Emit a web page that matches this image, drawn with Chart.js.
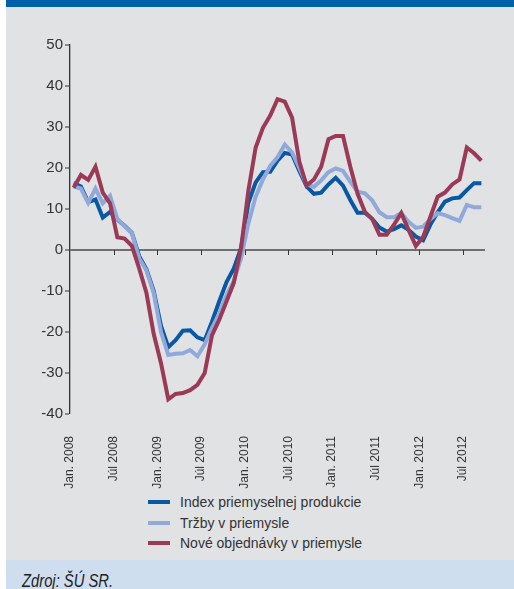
<!DOCTYPE html>
<html>
<head>
<meta charset="utf-8">
<script src="https://cdn.jsdelivr.net/npm/chart.js@4.4.1/dist/chart.umd.min.js"></script>
<style>
  html, body { margin: 0; padding: 0; background: #fff; }
  #wrap { position: relative; width: 514px; height: 589px; overflow: hidden; font-family: "Liberation Sans", Arial, sans-serif; }
  #topbar { position: absolute; left: 6px; top: 0; width: 508px; height: 7px; background: #0061aa; }
  #panel { position: absolute; left: 6px; top: 7px; width: 508px; height: 553px; background: #e1e2e4; }
  #source { position: absolute; left: 6px; top: 560px; width: 508px; height: 29px; background: #cfdeee; }
  #source span { position: absolute; left: 16px; top: 12px; font-family: "Liberation Sans", Arial, sans-serif; font-style: italic; font-size: 18px; line-height: 18px; color: #222; transform: scaleX(0.82); transform-origin: left top; white-space: nowrap; }
  #chartBox { position: absolute; left: 0; top: 0; width: 514px; height: 490px; }
  #legend { position: absolute; left: 148px; top: 492px; }
  .item { display: flex; align-items: center; height: 20.5px; font-size: 14px; color: #333; }
  .swatch { width: 22px; height: 4px; margin-right: 10px; }
</style>
</head>
<body>
<div id="wrap">
  <div id="topbar"></div>
  <div id="panel"></div>
  <div id="source"><span>Zdroj: ŠÚ SR.</span></div>
  <div id="chartBox"><canvas id="myChart" width="514" height="490"></canvas></div>
  <div id="legend"></div>
</div>
<script>
// months Jan 2008 .. Sep 2012
const months = []
for (let y = 2008; y <= 2012; y++) {
  for (let m = 1; m <= 12; m++) {
    if (y === 2012 && m > 9) break
    months.push(y + '-' + m)
  }
}

const tickMonths = [0, 6, 12, 18, 24, 30, 36, 42, 48, 54]
const tickLabels = ['Jan. 2008', 'Júl 2008', 'Jan. 2009', 'Júl 2009', 'Jan. 2010',
  'Júl 2010', 'Jan. 2011', 'Júl 2011', 'Jan. 2012', 'Júl 2012']

const seriesNames = ['Index priemyselnej produkcie', 'Tržby v priemysle', 'Nové objednávky v priemysle']
const seriesColors = ['#0a58a2', '#91a9da', '#9a3a57']

const industryIndex = [16.3, 15.5, 11.7, 12.3, 7.9, 9.3, 7.4, 5.9, 4.2, -1.5,
  -4.7, -10, -18.5, -23.7, -22, -19.7, -19.6, -21.3, -22, -17.5,
  -12.5, -7.8, -4.5, 0.5, 11.5, 16.5, 19, 19.1, 21.8, 23.7,
  23.3, 19.3, 15.5, 13.7, 14, 16, 17.6, 15.7, 12.2, 9.1,
  9.1, 7.6, 5.5, 4.5, 5.1, 6, 4.9, 3.3, 2.4, 6.2,
  9.2, 11.8, 12.6, 12.8, 14.6, 16.3, 16.3]

const sales = [15.5, 15, 11.5, 15, 11.4, 13.2, 7.6, 5.8, 4.1, -2,
  -5, -10.5, -20, -25.6, -25.3, -25.2, -24.4, -25.9, -23, -19,
  -15.5, -11, -7.5, -2, 6.5, 13, 17.2, 20.5, 22.6, 25.7,
  23.8, 20, 16, 15.4, 17, 19, 19.9, 19.3, 16.6, 14.2,
  13.8, 12.1, 9.2, 8, 8, 9, 6.9, 5.4, 5.7, 7.5,
  9, 8.5, 7.8, 7.1, 11, 10.4, 10.4]

const newOrders = [15.2, 18.3, 17.1, 20.3, 14, 11.4, 3.1, 2.8, 1, -4.5,
  -10.5, -20.5, -27.6, -36.4, -35.1, -34.9, -34.2, -32.9, -30, -20.8,
  -17, -12.5, -8, 0.5, 14.5, 25, 29.8, 32.8, 36.8, 36.2,
  32.3, 21.5, 15.7, 17.2, 20.3, 27, 27.8, 27.8, 20.3, 13.7,
  9.3, 7.6, 3.7, 3.7, 6.2, 9, 4.9, 1, 3.2, 8.1,
  13, 14, 16, 17.2, 25, 23.6, 21.8]

const allSeries = [industryIndex, sales, newOrders]

// html legend
const legend = document.getElementById('legend')
seriesNames.forEach((name, i) => {
  const item = document.createElement('div')
  item.className = 'item'
  item.innerHTML = '<div class="swatch" style="background:' + seriesColors[i] + '"></div>' + name
  legend.appendChild(item)
})

// small tick marks hanging from the zero line
const zeroTicks = {
  id: 'zeroTicks',
  beforeDatasetsDraw(chart) {
    const xs = chart.scales.x
    const y0 = chart.scales.y.getPixelForValue(0)
    const c = chart.ctx
    c.save()
    c.strokeStyle = '#333'
    c.lineWidth = 1
    xs.ticks.forEach((t, i) => {
      if (i === 0) return
      const px = Math.round(xs.getPixelForValue(t.value)) + 0.5
      c.beginPath()
      c.moveTo(px, y0)
      c.lineTo(px, y0 + 5)
      c.stroke()
    })
    c.restore()
  }
}

var ctx = document.getElementById('myChart')
var lineChart = new Chart(ctx, {
  type: 'line',
  data: {
    datasets: allSeries.map((s, i) => ({
      label: seriesNames[i],
      data: s.map((v, j) => ({ x: j, y: v })),
      borderColor: seriesColors[i],
      backgroundColor: seriesColors[i],
      borderWidth: 4,
      pointRadius: 0,
      tension: 0,
      order: 2 - i
    }))
  },
  options: {
    responsive: false,
    animation: false,
    layout: { padding: { top: 45, right: 29, left: 0, bottom: 0 } },
    plugins: { legend: { display: false }, tooltip: { enabled: false } },
    scales: {
      x: {
        type: 'linear',
        min: -0.5,
        max: months.length - 0.5,
        afterBuildTicks: s => { s.ticks = tickMonths.map(m => ({ value: m - 0.5 })) },
        afterFit: s => { s.height = 76 },
        grid: { display: false },
        border: { display: false },
        ticks: {
          autoSkip: false,
          maxRotation: 90,
          minRotation: 90,
          padding: 14,
          color: '#333',
          font: { size: 12, family: '"Liberation Sans", Arial, sans-serif' },
          callback: (v, i) => tickLabels[i]
        }
      },
      y: {
        min: -40,
        max: 50,
        afterFit: s => { s.width = 70 },
        border: { display: true, color: '#333', width: 1.3 },
        grid: {
          color: c => c.tick.value === 0 ? '#707070' : 'rgba(0,0,0,0)',
          lineWidth: c => c.tick.value === 0 ? 2 : 0,
          tickColor: '#333',
          tickLength: 5,
          tickWidth: 1
        },
        ticks: {
          stepSize: 10,
          padding: 2,
          color: '#333',
          font: { size: 15, family: '"Liberation Sans", Arial, sans-serif' }
        }
      }
    }
  },
  plugins: [zeroTicks]
})
</script>
</body>
</html>
